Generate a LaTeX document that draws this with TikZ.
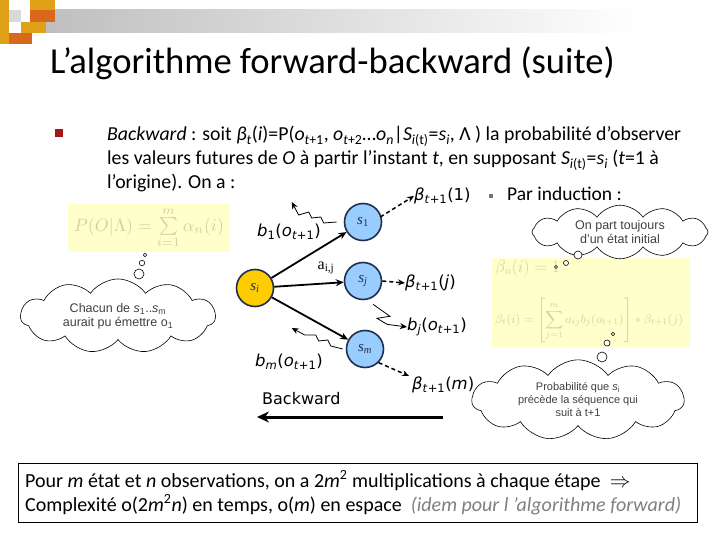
\documentclass[tikz,border=0pt]{standalone}
\usepackage{graphicx}
\usepackage{fontspec}
\setmainfont{Carlito}
\newfontfamily\verd{DejaVu Sans}
\newfontfamily\arial{Liberation Sans}
\newfontfamily\tms{Liberation Serif}
\usetikzlibrary{shapes.symbols,shapes.geometric,arrows.meta}
\definecolor{stblue}{HTML}{99CCFF}
\definecolor{stgold}{HTML}{FFCC00}
\definecolor{stedge}{HTML}{1F2F4F}
\definecolor{pale}{HTML}{FFFFCC}
\definecolor{paletext}{HTML}{D4D09C}
\definecolor{decgold}{HTML}{E0A018}
\definecolor{decorange}{HTML}{D8681A}
\definecolor{bulred}{HTML}{A01818}
\tikzset{
  statenode/.style={circle,draw=stedge,line width=1.6pt,minimum size=37pt,inner sep=0pt,font=\tms\fontsize{15}{15}\selectfont\color{stedge}},
  bluestate/.style={statenode,fill=stblue},
  goldstate/.style={statenode,fill=stgold},
  trans/.style={line width=1.8pt,-{Stealth[length=8pt,width=7pt]}},
  dasharr/.style={line width=1.5pt,dashed,dash pattern=on 4pt off 3pt,-{Stealth[length=7pt,width=6pt]}},
  zig/.style={line width=0.8pt,-{Stealth[length=7pt,width=6pt]}},
  lbl/.style={font=\verd\fontsize{16.5}{16.5}\selectfont,inner sep=0pt},
  bodytxt/.style={anchor=base west,inner sep=0pt,font=\fontsize{19.8}{22}\selectfont},
  thought/.style={cloud,cloud puffs=11,cloud puff arc=110,aspect=3,draw,line width=0.6pt,fill=white,inner sep=1pt,align=center,font=\arial\fontsize{12.5}{14}\selectfont\color{black!75}},
  bubble/.style={circle,draw,line width=0.6pt,fill=white,inner sep=0pt},
  formbox/.style={fill=pale,inner sep=0pt},
}
\begin{document}
\begin{tikzpicture}[x=1pt,y=-1pt]
\useasboundingbox (0,0) rectangle (720,540);
\fill[white] (0,0) rectangle (720,540);
% top decoration
\shade[left color=black!25,right color=white] (46,10) rectangle (640,33);
\fill[decgold] (0,0) rectangle (9,44);
\fill[black!15] (9,10) rectangle (21,22);
\fill[decgold] (30,0) rectangle (55,10);
\fill[decorange] (30,10) rectangle (55,22);
\fill[decgold] (21,22) rectangle (46,33);
\fill[decorange] (9,33) rectangle (32,44);
% title
\node[anchor=base west,inner sep=0pt,font=\fontsize{36.6}{40}\selectfont] (title) at (50,74) {L’algorithme forward-backward (suite)};
% bullet text
\node[fill=bulred,minimum size=8pt,inner sep=0pt] (bul) at (59,133) {};
\node[bodytxt] (l1) at (107,141) {\textit{Backward} : soit \textit{β\textsubscript{t}}(\textit{i})=P(\textit{o}\textsubscript{\textit{t}+1}, \textit{o}\textsubscript{\textit{t}+2}…\textit{o}\textsubscript{\textit{n}}|\textit{S}\textsubscript{\textit{i}(t)}=\textit{s}\textsubscript{\textit{i}}, Λ ) la probabilité d’observer};
\node[bodytxt] (l2) at (107,165) {les valeurs futures de \textit{O} à partir l’instant \textit{t}, en supposant \textit{S}\textsubscript{\textit{i}(t)}=\textit{s}\textsubscript{\textit{i}} (\textit{t}=1 à};
\node[bodytxt] (l3) at (107,189) {l’origine). On a :};
% par induction
\node[fill=black!55,minimum size=4pt,inner sep=0pt] (bul2) at (491,196) {};
\node[anchor=base west,inner sep=0pt,font=\fontsize{19.5}{20}\selectfont] (ind) at (507,201) {Par induction :};
% formula boxes
\node[formbox,minimum width=162pt,minimum height=47pt] (fbox1) at (149,228) {};
\node[inner sep=0pt,color=paletext] (f1) at (fbox1) {\resizebox{150pt}{!}{$P(O|\Lambda)=\sum\limits_{i=1}^{m}\alpha_n(i)$}};
\node[formbox,minimum width=198pt,minimum height=89pt] (fbox2) at (591,302) {};
\node[anchor=west,inner sep=0pt,font=\fontsize{16}{16}\selectfont\color{paletext}] (f2a) at (495,268) {$\beta_n(i)=1$};
\node[anchor=west,inner sep=0pt,color=paletext] (f2b) at (495,320) {\resizebox{188pt}{!}{$\displaystyle\beta_t(i)=\left[\sum_{j=1}^{m}a_{ij}b_j(o_{t+1})\right]*\beta_{t+1}(j)$}};
% states
\node[bluestate] (s1) at (363,222) {\textit{s}\textsubscript{1}};
\node[bluestate] (sj) at (363,281) {\textit{s}\textsubscript{\textit{j}}};
\node[goldstate] (si) at (255,288) {\textit{s}\textsubscript{\textit{i}}};
\node[bluestate] (sm) at (365,349) {\textit{s}\textsubscript{\textit{m}}};
\draw[trans] (si) -- (s1);
\draw[trans] (si) -- (sj);
\draw[trans] (si) -- (sm);
\node[font=\tms\fontsize{16}{16}\selectfont,inner sep=0pt] (aij) at (326,268) {a\textsubscript{i,j}};
% beta outputs
\node[lbl,anchor=west] (b1out) at (414,196) {\textit{β\textsubscript{t}}\textsubscript{+1}(1)};
\node[lbl,anchor=west] (bjout) at (405,283) {\textit{β\textsubscript{t}}\textsubscript{+1}(\textit{j})};
\node[lbl,anchor=west] (bmout) at (412,385) {\textit{β\textsubscript{t}}\textsubscript{+1}(\textit{m})};
\draw[dasharr] (s1.east) ++(-2,-5) -- (b1out.west);
\draw[dasharr] (sj.east) -- (bjout.west);
\draw[dasharr] (sm.south east) -- (409,376);
% emission labels
\node[lbl] (e1) at (289,232) {\textit{b}\textsubscript{1}(\textit{o}\textsubscript{\textit{t}+1})};
\node[lbl,anchor=west] (ej) at (407,327) {\textit{b\textsubscript{j}}(\textit{o}\textsubscript{\textit{t}+1})};
\node[lbl] (em) at (289,362) {\textit{b\textsubscript{m}}(\textit{o}\textsubscript{\textit{t}+1})};
\draw[zig] (s1.west) ++(-7,0) -- ++(-13,1) -- ++(-3,-6) -- ++(-9,1) -- ++(-3,-6) -- ++(-10,3) -- ++(-7,-13);
\draw[zig] (sj.south) ++(10,4) -- ++(17,12) -- ++(-13,2) -- ++(10,6) -- (ej.west);
\draw[zig] (sm.west) ++(-3,0) -- ++(-12,-3) -- ++(-3,-6) -- ++(-9,1) -- ++(-3,-6) -- ++(-11,0) -- ++(-13,-7);
% backward arrow
\node[anchor=base west,inner sep=0pt,font=\verd\fontsize{16}{16}\selectfont] (bw) at (262,404) {Backward};
\coordinate (bwstart) at (443,417);
\coordinate (bwend) at (257,417);
\draw[line width=3pt,-{Stealth[length=12pt,width=11pt]}] (bwstart) -- (bwend);
% clouds
\node[thought,minimum width=195pt,minimum height=62pt] (c1) at (118,316) {Chacun de \textit{s}\textsubscript{1}..\textit{s}\textsubscript{m}\\aurait pu émettre o\textsubscript{1}};
\node[bubble,minimum size=3.4pt] (c1a) at (145,255) {};
\node[bubble,minimum size=5.4pt] (c1b) at (142,263) {};
\node[bubble,minimum size=10pt] (c1c) at (139,274) {};
\node[thought,minimum width=176pt,minimum height=44pt,cloud puffs=12,aspect=4] (c2) at (620,232) {On part toujours\\d’un état initial};
\node[bubble,minimum size=8pt] (c2a) at (578,255) {};
\node[bubble,minimum size=5pt] (c2b) at (566,263) {};
\node[bubble,minimum size=3pt] (c2c) at (556,267) {};
\node[bubble,minimum size=3.4pt] (c3a) at (613,334) {};
\node[bubble,minimum size=6pt] (c3b) at (607,343) {};
\node[bubble,minimum size=10pt] (c3c) at (602,357) {};
\node[thought,minimum width=212pt,minimum height=78pt,font=\arial\fontsize{11}{13}\selectfont\color{black!75}] (c3) at (578,400) {Probabilité que \textit{s}\textsubscript{i}\\précède la séquence qui\\suit à t+1};
% bottom box
\draw[line width=0.8pt] (18,463) rectangle (697,522);
\node[anchor=base west,inner sep=0pt,font=\fontsize{20}{22}\selectfont] (bot1) at (25,487) {Pour \textit{m} état et \textit{n} observations, on a 2\textit{m}\textsuperscript{2} multiplications à chaque étape~~$\Rightarrow$};
\node[anchor=base west,inner sep=0pt,font=\fontsize{20}{22}\selectfont] (bot2) at (25,511) {Complexité o(2\textit{m}\textsuperscript{2}\textit{n}) en temps, o(\textit{m}) en espace~~{\color{black!50}\textit{(idem pour l ’algorithme forward)}}};
\end{tikzpicture}
\end{document}
